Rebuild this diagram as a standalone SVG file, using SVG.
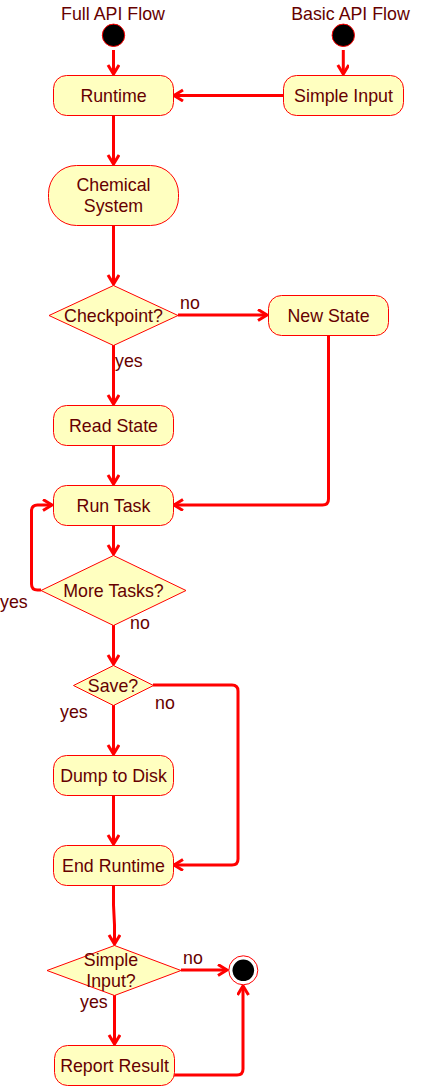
<svg xmlns="http://www.w3.org/2000/svg" width="429" height="1087" viewBox="0 0 429 1087">
<style>
.n{fill:#FFFFC0;stroke:#FF0000;stroke-width:1}
.t{font-family:"Liberation Sans",Arial,sans-serif;font-size:17.8px;fill:#660000;text-anchor:middle}
.l{font-family:"Liberation Sans",Arial,sans-serif;font-size:17.8px;fill:#660000}
.c{fill:none;stroke:#FF0000;stroke-width:3;marker-end:url(#arr)}
.s{fill:#000000;stroke:#FF0000;stroke-width:1}
</style>
<defs>
<marker id="arr" markerWidth="14" markerHeight="14" refX="10" refY="6" orient="auto" markerUnits="userSpaceOnUse">
<path d="M1,0.5 L10,6 L1,11.5" fill="none" stroke="#FF0000" stroke-width="3"/>
</marker>
</defs>
<rect width="429" height="1087" fill="#FFFFFF"/>
<g id="connectors">
<path class="c" d="M113.5,50 L113.5,74"/>
<path class="c" d="M343.3,50 L343.3,74"/>
<path class="c" d="M283,95.5 L174,95.5"/>
<path class="c" d="M113.5,115 L113.5,164"/>
<path class="c" d="M113.5,225 L113.5,284"/>
<path class="c" d="M178,315 L267,315"/>
<path class="c" d="M113.5,345 L113.5,404"/>
<path class="c" d="M113.5,445 L113.5,484"/>
<path class="c" d="M328.5,335 L328.5,499 Q328.5,505 322.5,505 L174,505"/>
<path class="c" d="M113.5,525 L113.5,554"/>
<path class="c" d="M41,590 L37.5,590 Q31.5,590 31.5,584 L31.5,511 Q31.5,505 37.5,505 L52,505"/>
<path class="c" d="M113.5,625 L113.5,664"/>
<path class="c" d="M153,685 L232,685 Q238,685 238,691 L238,859 Q238,865 232,865 L174,865"/>
<path class="c" d="M113.5,705 L113.5,754"/>
<path class="c" d="M113.5,795 L113.5,844"/>
<path class="c" d="M113.5,885 L113.5,905 L114.5,925 L114.5,944"/>
<path class="c" d="M181,970 L227,970"/>
<path class="c" d="M114.5,995 L114.5,1044"/>
<path class="c" d="M174,1075 L237,1075 Q243,1075 243,1069 L243,986"/>
</g>
<g id="full-start">
<text class="t" x="113" y="19.5">Full API Flow</text>
<circle class="s" cx="113.5" cy="35.3" r="11.2"/>
</g>
<g id="basic-start">
<text class="t" x="350.5" y="19.5">Basic API Flow</text>
<circle class="s" cx="343.3" cy="35.3" r="11.2"/>
</g>
<g id="runtime">
<rect class="n" x="53.5" y="75.5" width="120" height="40" rx="13"/>
<text class="t" x="113.5" y="101.7">Runtime</text>
</g>
<g id="simple-input">
<rect class="n" x="283.5" y="75.5" width="120" height="40" rx="13"/>
<text class="t" x="343.5" y="101.7">Simple Input</text>
</g>
<g id="chemical-system">
<rect class="n" x="48.5" y="165.5" width="130" height="60" rx="28"/>
<text class="t" x="113.5" y="191">Chemical</text>
<text class="t" x="113.5" y="212">System</text>
</g>
<g id="checkpoint">
<polygon class="n" points="113.5,285.5 178,315.5 113.5,345.5 49,315.5"/>
<text class="t" x="113.5" y="321.7">Checkpoint?</text>
<text class="l" x="180" y="309">no</text>
<text class="l" x="115" y="367">yes</text>
</g>
<g id="new-state">
<rect class="n" x="268.5" y="295.5" width="120" height="40" rx="13"/>
<text class="t" x="328.5" y="321.7">New State</text>
</g>
<g id="read-state">
<rect class="n" x="53.5" y="405.5" width="120" height="40" rx="13"/>
<text class="t" x="113.5" y="431.7">Read State</text>
</g>
<g id="run-task">
<rect class="n" x="53.5" y="485.5" width="120" height="40" rx="13"/>
<text class="t" x="113.5" y="511.7">Run Task</text>
</g>
<g id="more-tasks">
<polygon class="n" points="113.5,555.5 186,590.5 113.5,625.5 41,590.5"/>
<text class="t" x="113.5" y="596.7">More Tasks?</text>
<text class="l" x="0" y="608">yes</text>
<text class="l" x="130" y="628.5">no</text>
</g>
<g id="save">
<polygon class="n" points="113.5,665.5 153.5,685.5 113.5,705.5 73.5,685.5"/>
<text class="t" x="113" y="691.7">Save?</text>
<text class="l" x="155" y="709">no</text>
<text class="l" x="60" y="718">yes</text>
</g>
<g id="dump-to-disk">
<rect class="n" x="53.5" y="755.5" width="120" height="40" rx="13"/>
<text class="t" x="113.5" y="781.7">Dump to Disk</text>
</g>
<g id="end-runtime">
<rect class="n" x="53.5" y="845.5" width="120" height="40" rx="13"/>
<text class="t" x="113.5" y="871.7">End Runtime</text>
</g>
<g id="simple-input-q">
<polygon class="n" points="114.5,945.5 181,970.5 114.5,995.5 47,970.5"/>
<text class="t" x="111" y="966">Simple</text>
<text class="t" x="111" y="987">Input?</text>
<text class="l" x="183" y="963.5">no</text>
<text class="l" x="80" y="1008">yes</text>
</g>
<g id="end">
<circle cx="243.3" cy="970.3" r="14.5" fill="#FFFFFF" stroke="#FF0000" stroke-width="1"/>
<circle cx="243.3" cy="970.3" r="10.8" fill="#000000"/>
</g>
<g id="report-result">
<rect class="n" x="54.5" y="1045.5" width="120" height="40" rx="13"/>
<text class="t" x="114.5" y="1071.7">Report Result</text>
</g>
</svg>
